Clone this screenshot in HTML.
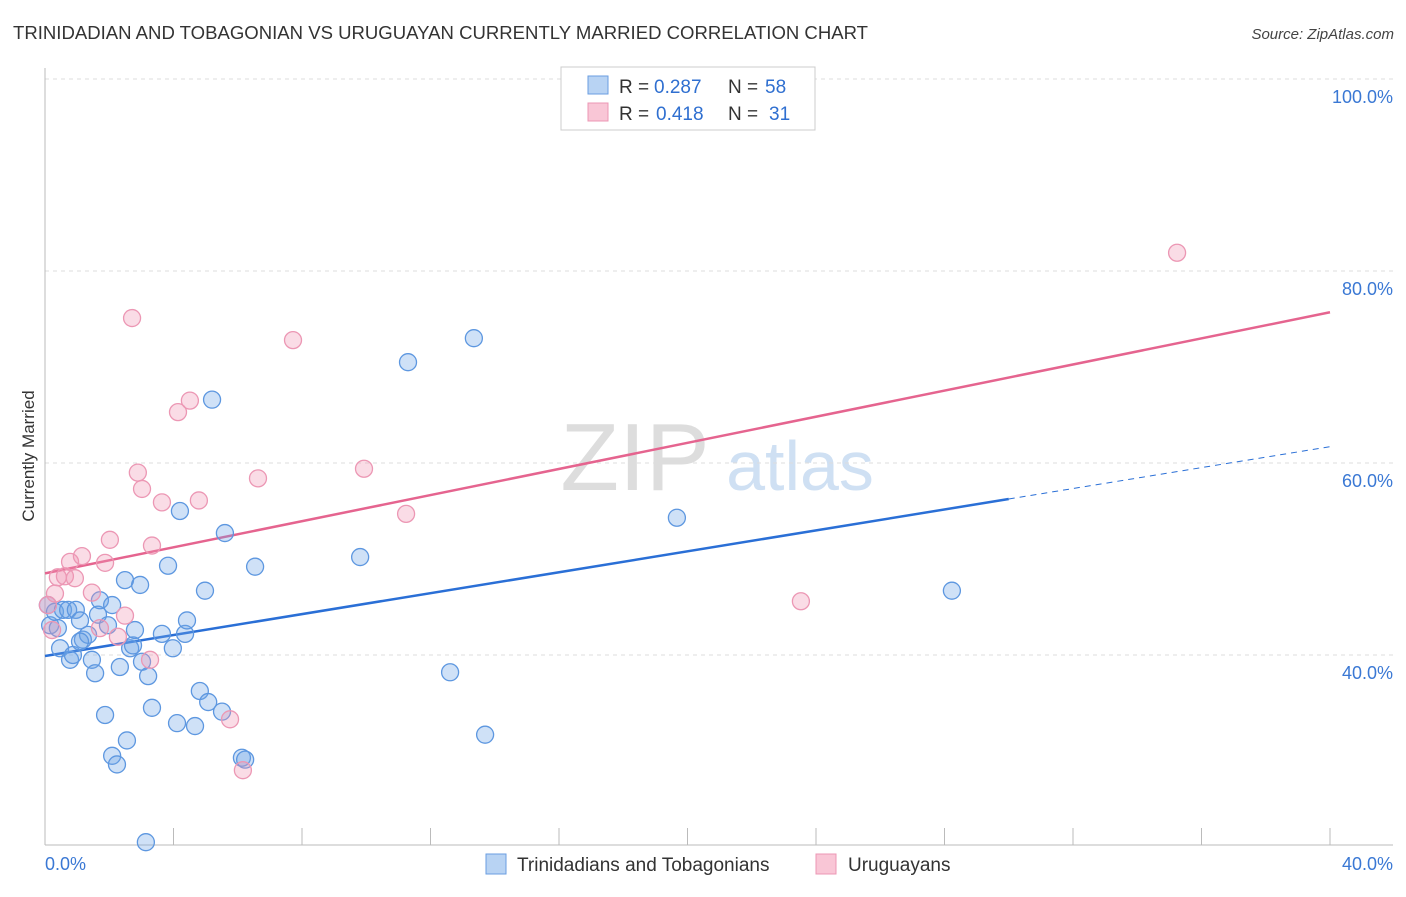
<!DOCTYPE html>
<html><head><meta charset="utf-8"><style>
body{margin:0;background:#fff;font-family:"Liberation Sans",sans-serif;}
svg text{font-family:"Liberation Sans",sans-serif;}
</style></head><body>
<svg id="chart" width="1406" height="892" viewBox="0 0 1406 892">
<text x="13" y="39" font-size="18" fill="#333" textLength="855" lengthAdjust="spacingAndGlyphs">TRINIDADIAN AND TOBAGONIAN VS URUGUAYAN CURRENTLY MARRIED CORRELATION CHART</text>
<text x="1394" y="39" font-size="15" fill="#444" text-anchor="end" font-style="italic">Source: ZipAtlas.com</text>
<text transform="translate(34,456) rotate(-90)" font-size="17" fill="#333" text-anchor="middle">Currently Married</text>
<g>
<text x="635" y="490" font-size="96" fill="#ddd" text-anchor="middle" font-family="Liberation Serif,serif">ZIP</text>
<text x="800" y="490" font-size="70" fill="#cfe0f3" text-anchor="middle">atlas</text>
</g>
<g id="grid"></g><g id="axes"></g><g id="lines"></g><g id="pts"></g>
<g>
<rect x="561" y="67" width="254" height="63" fill="#fff" stroke="#ccc"/>
<rect x="588" y="76" width="20" height="18" fill="#b8d3f3" stroke="#6a9ee0"/>
<rect x="588" y="103" width="20" height="18" fill="#f9c6d6" stroke="#ec97b4"/>
<text x="619" y="93" font-size="19" fill="#333">R =</text>
<text x="654" y="93" font-size="19" fill="#2f6fd0">0.287</text>
<text x="728" y="93" font-size="19" fill="#333">N =</text>
<text x="765" y="93" font-size="19" fill="#2f6fd0">58</text>
<text x="619" y="120" font-size="19" fill="#333">R =</text>
<text x="656" y="120" font-size="19" fill="#2f6fd0">0.418</text>
<text x="728" y="120" font-size="19" fill="#333">N =</text>
<text x="769" y="120" font-size="19" fill="#2f6fd0">31</text>
</g>
<g>
<rect x="486" y="854" width="20" height="20" fill="#b8d3f3" stroke="#6a9ee0"/>
<text x="517" y="871" font-size="19" fill="#333">Trinidadians and Tobagonians</text>
<rect x="816" y="854" width="20" height="20" fill="#f9c6d6" stroke="#ec97b4"/>
<text x="848" y="871" font-size="19" fill="#333">Uruguayans</text>
</g>
</svg>
<script>
const yTicks=[40,60,80,100];
const yTickLabels=["40.0%","60.0%","80.0%","100.0%"];
const xTicks=[0,4,8,12,16,20,24,28,32,36,40];
const blueX=[0.09,0.16,0.31,0.40,0.47,0.56,0.72,0.78,0.87,0.96,1.09,1.18,1.34,1.46,1.56,1.65,1.71,1.87,1.96,2.09,2.09,2.24,2.33,2.49,2.55,2.65,2.74,2.80,2.96,3.02,3.21,3.33,3.14,3.64,3.83,3.98,4.11,4.20,4.36,4.42,4.67,4.82,4.98,5.08,5.20,5.51,5.60,6.13,6.23,6.54,9.81,11.30,12.61,13.35,13.70,19.67,28.23,1.09];
const blueY=[45.2,43.1,44.5,42.8,40.7,44.7,44.7,39.5,40.0,44.7,43.6,41.6,42.1,39.5,38.1,44.2,45.7,33.75,43.1,45.2,29.5,28.6,38.75,47.8,31.1,40.7,41.0,42.6,47.3,39.3,37.8,34.5,20.5,42.2,49.3,40.7,32.9,55.0,42.2,43.6,32.6,36.25,46.7,35.1,66.6,34.1,52.7,29.3,29.1,49.2,50.2,70.5,38.2,73.0,31.7,54.3,46.7,41.4];
const pinkX=[0.09,0.22,0.31,0.40,0.62,0.78,0.93,1.15,1.46,1.71,1.87,2.02,2.27,2.49,2.71,2.89,3.02,3.33,3.27,3.64,4.14,4.51,4.79,5.76,6.16,6.63,7.72,9.93,11.24,23.53,35.24];
const pinkY=[45.2,42.6,46.4,48.1,48.2,49.7,48.0,50.3,46.5,42.8,49.6,52.0,41.9,44.1,75.1,59.0,57.3,51.4,39.5,55.9,65.3,66.5,56.1,33.3,28.0,58.4,72.8,59.4,54.7,45.6,81.9];
const blueTrend=[39.9,61.7];
const pinkTrend=[48.5,75.7];
const NS="http://www.w3.org/2000/svg";
const xs=v=>45+v/40*1285;
const ys=v=>79+(100-v)*9.6;
function mk(tag,attrs,parent){const e=document.createElementNS(NS,tag);for(const k in attrs)e.setAttribute(k,attrs[k]);document.getElementById(parent).appendChild(e);return e;}
yTicks.forEach((t,i)=>{
 const g=mk('line',{x1:45,x2:1393,y1:ys(t),y2:ys(t),stroke:'#ddd','stroke-dasharray':'4,4'},'grid');
 
 
 const tx=mk('text',{x:1393,y:ys(t)+24,'font-size':18,fill:'#3a78d4','text-anchor':'end'},'grid');
 tx.textContent=yTickLabels[i];
 
 
});
const ax=mk('line',{x1:45,x2:45,y1:68,y2:845,stroke:'#bbb'},'axes');


const bx=mk('line',{x1:45,x2:1393,y1:845,y2:845,stroke:'#bbb'},'axes');


xTicks.forEach(t=>{
 const l=mk('line',{x1:xs(t),x2:xs(t),y1:828,y2:845,stroke:'#bbb'},'axes');
 
 
});
const x0=mk('text',{x:45,y:870,'font-size':18,fill:'#3a78d4'},'axes');x0.textContent='0.0%';


const x1=mk('text',{x:1393,y:870,'font-size':18,fill:'#3a78d4','text-anchor':'end'},'axes');x1.textContent='40.0%';


blueX.forEach((v,i)=>{
 const c=mk('circle',{cx:xs(v),cy:ys(blueY[i]),r:8.5,fill:'rgba(110,165,230,0.33)',stroke:'#5d97e0','stroke-width':1.3},'pts');
 
 
});
pinkX.forEach((v,i)=>{
 const c=mk('circle',{cx:xs(v),cy:ys(pinkY[i]),r:8.5,fill:'rgba(240,150,180,0.33)',stroke:'#ec97b4','stroke-width':1.3},'pts');
 
 
});
const bAt=v=>blueTrend[0]+(blueTrend[1]-blueTrend[0])*v/40;
const pAt=v=>pinkTrend[0]+(pinkTrend[1]-pinkTrend[0])*v/40;
const split=30;
const bl=mk('line',{x1:xs(0),y1:ys(bAt(0)),x2:xs(split),y2:ys(bAt(split)),stroke:'#2a6fd6','stroke-width':2.5},'lines');


const bd=mk('line',{x1:xs(split),y1:ys(bAt(split)),x2:xs(40),y2:ys(bAt(40)),stroke:'#2a6fd6','stroke-width':1,'stroke-dasharray':'6,5'},'lines');


const pl=mk('line',{x1:xs(0),y1:ys(pAt(0)),x2:xs(40),y2:ys(pAt(40)),stroke:'#e5648f','stroke-width':2.5},'lines');


</script>
</body></html>
